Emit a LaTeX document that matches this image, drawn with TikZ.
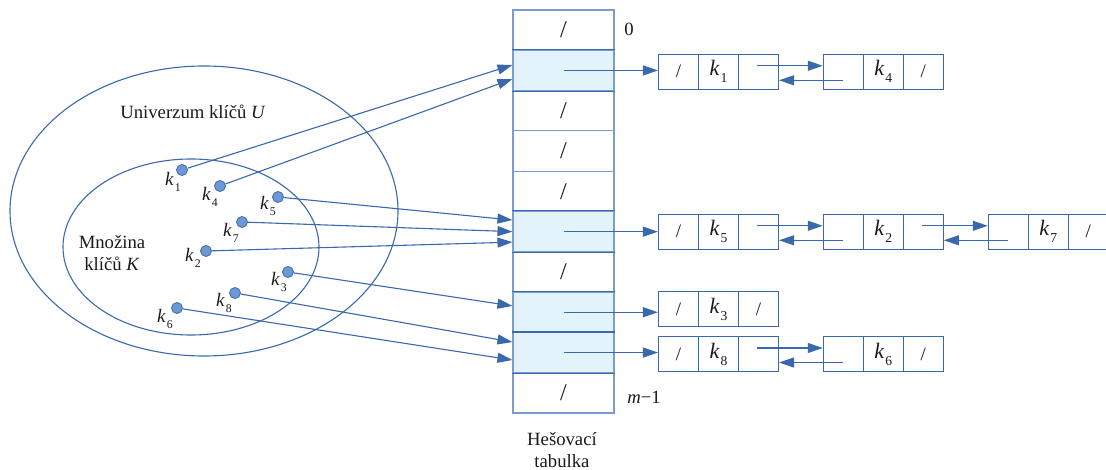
\documentclass[tikz,border=0pt]{standalone}
\usepackage{fontspec}
\usepackage{graphicx}
\setmainfont{Liberation Serif}
\usetikzlibrary{arrows.meta,calc}

\definecolor{edge}{HTML}{3A68AE}
\definecolor{cellline}{HTML}{7C9CD0}
\definecolor{hl}{HTML}{E2F3FC}
\definecolor{dotfill}{HTML}{6C98D3}
\definecolor{dotline}{HTML}{4672B5}
\definecolor{ink}{HTML}{1A1A1A}

% key name with its index as a lowered subscript
\newcommand\kk[1]{\textit{k}\kern1pt\raisebox{-0.32em}{\scalebox{0.62}{#1}}}

\tikzset{
  tcell/.style={draw=cellline, line width=1.1pt, minimum width=101pt,
    minimum height=40.3pt, inner sep=0pt, text=ink,
    font=\fontsize{24}{24}\selectfont},
  hcell/.style={tcell, fill=hl},
  lcell/.style={draw=edge, line width=1.1pt, minimum width=40pt,
    minimum height=35pt, inner sep=0pt, text=ink},
  slash/.style={font=\fontsize{19}{19}\selectfont},
  keyc/.style={font=\fontsize{22}{22}\selectfont},
  dot/.style={circle, draw=dotline, fill=dotfill, line width=0.9pt,
    minimum size=11pt, inner sep=0pt},
  klabel/.style={text=ink, inner sep=0pt, font=\fontsize{19}{19}\selectfont},
  txt/.style={text=ink, inner sep=0pt, font=\fontsize{18.7}{22}\selectfont},
  arr/.style={draw=edge, line width=1.1pt,
    -{Triangle[length=15pt,width=10pt,fill=edge]}},
}

% one list element: three cells #1l, #1k, #1r centred on (#2,#3)
\newcommand\lnode[6]{%
  \node[lcell,slash] (#1l) at (#2,#3) {#4};
  \node[lcell,keyc]  (#1k) at (#2+40,#3) {#5};
  \node[lcell,slash] (#1r) at (#2+80,#3) {#6};
}

\begin{document}
\begin{tikzpicture}[x=1pt,y=-1pt]
\useasboundingbox (0,0) rectangle (1106,470);

% sets of keys
\draw[edge, line width=1.1pt] (204,211) ellipse [x radius=194pt, y radius=145pt];
\draw[edge, line width=1.1pt] (191,247) ellipse [x radius=128pt, y radius=88pt];
\node[txt] (uni) at (193,112) {Univerzum klíčů \textit{U}};
\node[txt, align=center] (mno) at (112,253) {Množina\\klíčů \textit{K}};

% hash table
\node[tcell] (t0) at (563.5,30.15)  {/};
\node[hcell] (t1) at (563.5,70.45)  {};
\node[tcell] (t2) at (563.5,110.75) {/};
\node[tcell] (t3) at (563.5,151.05) {/};
\node[tcell] (t4) at (563.5,191.35) {/};
\node[hcell] (t5) at (563.5,231.65) {};
\node[tcell] (t6) at (563.5,271.95) {/};
\node[hcell] (t7) at (563.5,312.25) {};
\node[hcell] (t8) at (563.5,352.55) {};
\node[tcell] (t9) at (563.5,392.85) {/};
\foreach \r in {1,5,7,8}{
  \draw[edge, line width=1.1pt] (t\r.north west) -- (t\r.north east);
  \draw[edge, line width=1.1pt] (t\r.south west) -- (t\r.south east);
}
\node[txt] (idx0) at (629,29) {0};
\node[txt] (idxm) at (644,397) {\textit{m}−1};
\node[txt, align=center] (cap) at (562,450) {Hešovací\\tabulka};

% chains
\lnode{a}{678.5}{71.8}{/}{\kk{1}}{}
\lnode{b}{843.3}{71.8}{}{\kk{4}}{/}
\lnode{c}{678.5}{231.8}{/}{\kk{5}}{}
\lnode{d}{843.3}{231.8}{}{\kk{2}}{}
\lnode{e}{1008.3}{231.8}{}{\kk{7}}{/}
\lnode{f}{678.5}{309}{/}{\kk{3}}{/}
\lnode{g}{678.5}{354}{/}{\kk{8}}{}
\lnode{h}{843.3}{354}{}{\kk{6}}{/}

% table slots to chain heads
\draw[arr] (t1.center) -- (t1.center -| al.west);
\draw[arr] (t5.center) -- (t5.center -| cl.west);
\draw[arr] (t7.center) -- (t7.center -| fl.west);
\draw[arr] (t8.center) -- (t8.center -| gl.west);

% next / prev links
\draw[arr] ($(ar.center)+(-1.5,-6)$) -- ($(bl.west)+(0,-6)$);
\draw[arr] ($(bl.center)+(0,8.5)$) -- ($(ar.east)+(0,8.5)$);
\draw[arr] ($(cr.center)+(-1.5,-6)$) -- ($(dl.west)+(0,-6)$);
\draw[arr] ($(dl.center)+(0,8.5)$) -- ($(cr.east)+(0,8.5)$);
\draw[arr] ($(dr.center)+(-1.5,-6)$) -- ($(el.west)+(0,-6)$);
\draw[arr] ($(el.center)+(0,8.5)$) -- ($(dr.east)+(0,8.5)$);
\draw[arr] ($(gr.center)+(-1.5,-6)$) -- ($(hl.west)+(0,-6)$);
\draw[arr] ($(hl.center)+(0,8.5)$) -- ($(gr.east)+(0,8.5)$);

% keys
\node[dot] (k1) at (182,170) {};
\node[dot] (k4) at (220,186) {};
\node[dot] (k5) at (278,197) {};
\node[dot] (k7) at (242,222) {};
\node[dot] (k2) at (206,251) {};
\node[dot] (k3) at (288,272) {};
\node[dot] (k8) at (235,293) {};
\node[dot] (k6) at (177,308) {};
\node[klabel] (lk1) at (173,182) {\kk{1}};
\node[klabel] (lk4) at (210,197) {\kk{4}};
\node[klabel] (lk5) at (268,206) {\kk{5}};
\node[klabel] (lk7) at (231,233) {\kk{7}};
\node[klabel] (lk2) at (193,258) {\kk{2}};
\node[klabel] (lk3) at (279,282) {\kk{3}};
\node[klabel] (lk8) at (224,303) {\kk{8}};
\node[klabel] (lk6) at (165,319) {\kk{6}};

% keys hashed into slots
\draw[arr] (k1) -- ($(t1.west)+(0,-5.5)$);
\draw[arr] (k4) -- ($(t1.west)+(0,8.5)$);
\draw[arr] (k5) -- ($(t5.west)+(0,-11.6)$);
\draw[arr] (k7) -- (t5.west);
\draw[arr] (k2) -- ($(t5.west)+(0,10.5)$);
\draw[arr] (k3) -- ($(t7.west)+(0,-6.3)$);
\draw[arr] (k8) -- ($(t8.west)+(0,-10.5)$);
\draw[arr] (k6) -- ($(t8.west)+(0,7.5)$);
\end{tikzpicture}
\end{document}
